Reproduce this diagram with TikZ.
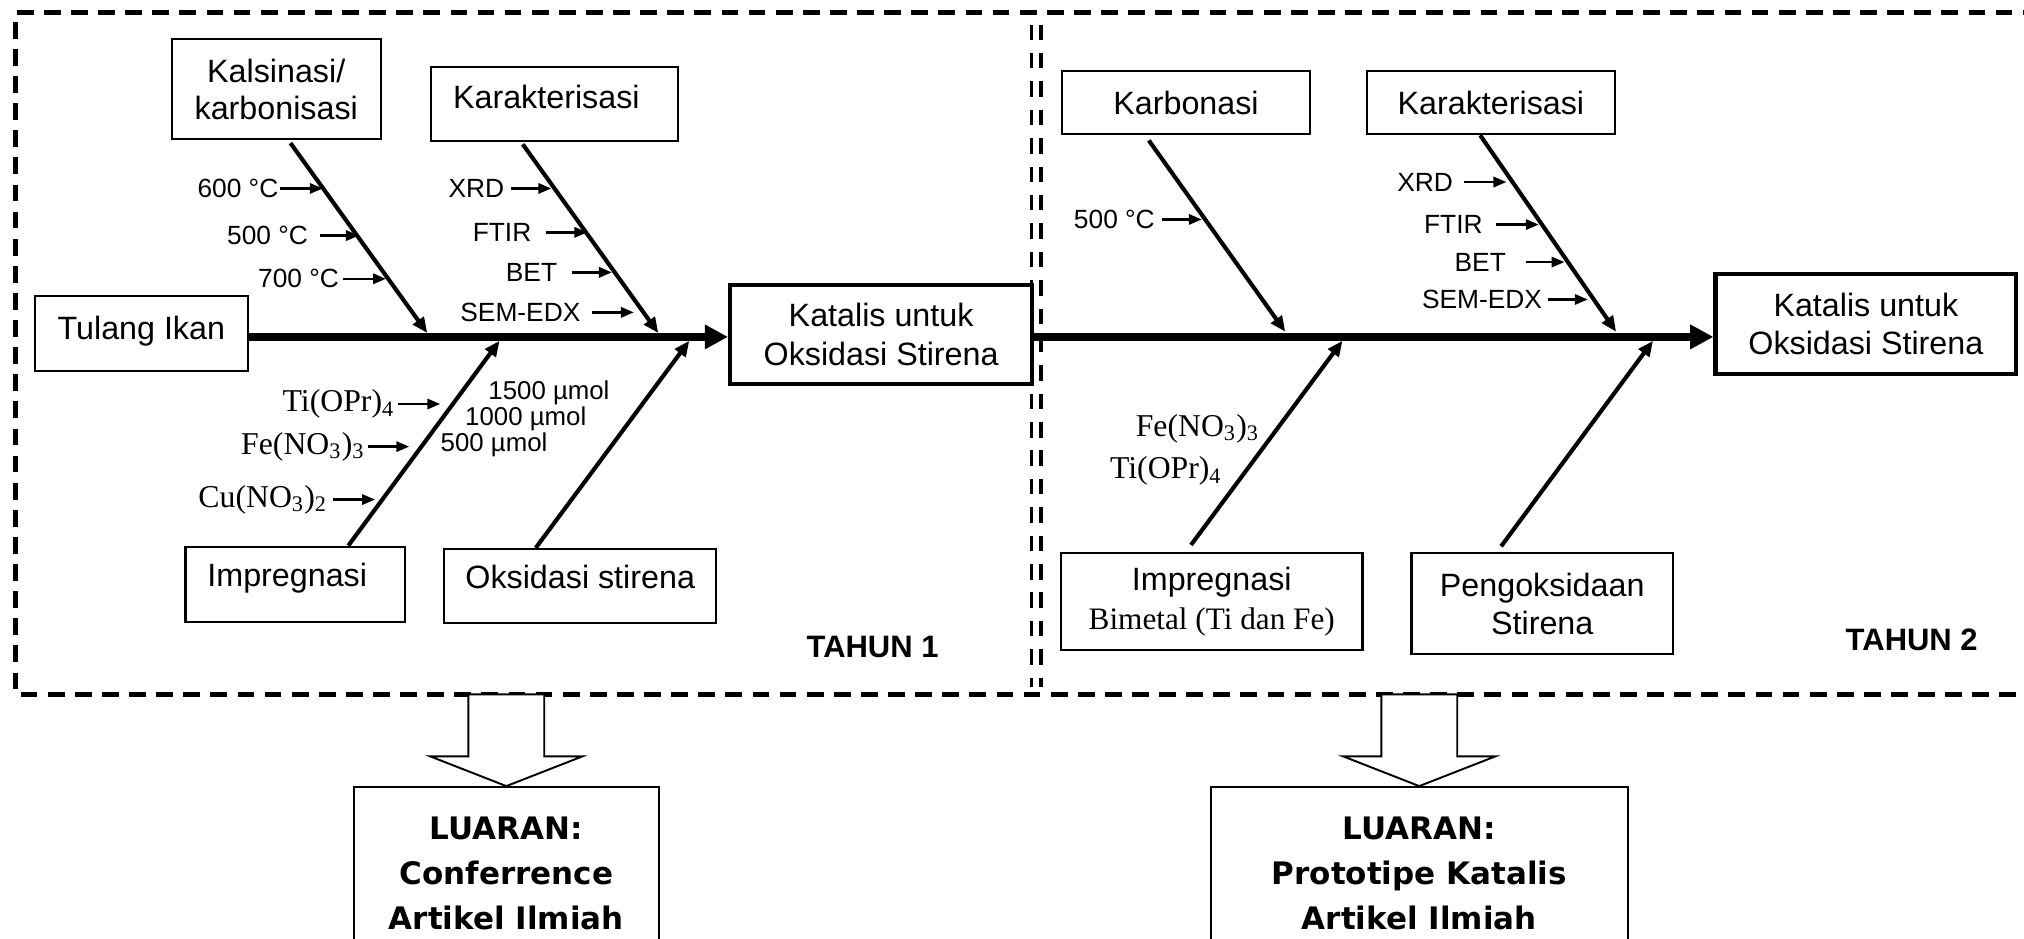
\documentclass[tikz,border=0pt]{standalone}
\usepackage{fontspec}
\setmainfont{Liberation Sans}
\newfontfamily\timesfont{Liberation Serif}
\newfontfamily\luaranfont{DejaVu Sans}
\usetikzlibrary{arrows.meta}

\begin{document}
\begin{tikzpicture}[x=0.5pt, y=-0.5pt,
    box/.style={draw, line width=0.8pt, align=center, inner sep=0pt, font=\fontsize{12.5}{14.5}\selectfont},
    goal/.style={box, line width=1.6pt, font=\fontsize{12.5}{15}\selectfont},
    bone/.style={line width=1.6pt, -{Triangle[length=6pt,width=5pt]}},
    spine/.style={line width=3.2pt, -{Triangle[length=9pt,width=9pt]}},
    subarrow/.style={line width=0.9pt, -{Triangle[length=5pt,width=4pt]}},
    lab/.style={font=\fontsize{10.2}{12}\selectfont, inner sep=0pt, anchor=east},
    chem/.style={font=\timesfont\fontsize{12.3}{14}\selectfont, inner sep=0pt, anchor=east},
    mol/.style={font=\fontsize{10}{12}\selectfont, inner sep=0pt, anchor=west},
    year/.style={font=\bfseries\fontsize{12}{14}\selectfont},
    dashframe/.style={line width=2pt, dash pattern=on 6.5pt off 4pt},
    divider/.style={line width=1.3pt, dash pattern=on 6pt off 5pt},
    blockarrow/.style={draw, line width=0.75pt, fill=white},
    outbox/.style={draw, line width=0.8pt, anchor=north, align=center, minimum height=67pt,
        font=\luaranfont\bfseries\fontsize{12}{17.5}\selectfont}
]
\clip (0,0) rectangle (1568,727);

% --- FRAME: two years side by side ---
\draw[dashframe] (1580,10) -- (12,10) -- (12,538) -- (1580,538);
\draw[divider] (799,19) -- (799,532);
\draw[divider] (806.5,19) -- (806.5,532);

\coordinate (sp) at (0,261);

% --- TAHUN 1 ---
\node[box, minimum width=81pt, minimum height=38.75pt] (kal) at (214,69.25) {Kalsinasi/\\karbonisasi};
\node[box, align=left, text width=78.5pt, inner xsep=8.5pt, text height=16.2pt, text depth=12.5pt] (kar1) at (429.5,80.3) {Karakterisasi};
\node[box, minimum width=82.5pt, text height=17pt, text depth=12pt] (tulang) at (109.5,258.2) {Tulang Ikan};
\node[goal, minimum width=117pt, minimum height=38.3pt] (kat1) at (682.6,259.1) {Katalis untuk\\Oksidasi Stirena};
\node[box, align=left, text width=68.1pt, inner xsep=8.5pt, text height=15.5pt, text depth=13.5pt] (imp1) at (228.8,452.55) {Impregnasi};
\node[box, minimum width=105.5pt, text height=15.2pt, text depth=13.6pt] (oks1) at (449.5,454.1) {Oksidasi stirena};
\node[year] (th1) at (676,501) {TAHUN 1};

% main line and bones
\draw[spine] (tulang.east |- sp) -- (kat1.west |- sp);
\coordinate (kalE) at (331,258);
\coordinate (kar1E) at (510,258);
\coordinate (imp1E) at (387,264);
\coordinate (oks1E) at (534,264);
\draw[bone] ([xshift=5.5pt,yshift=-1pt]kal.south) -- (kalE);
\draw[bone] ([xshift=-12.25pt,yshift=-1pt]kar1.south) -- (kar1E);
\draw[bone] ([xshift=20.5pt]imp1.north) -- (imp1E);
\draw[bone] ([xshift=-17.25pt]oks1.north) -- (oks1E);

% causes on the bones
\node[lab] (c600) at (216,146) {600 °C};
\node[lab] (c500) at (239,182.5) {500 °C};
\node[lab] (c700) at (263,216) {700 °C};
\node[lab] (xrd1) at (391,146) {XRD};
\node[lab] (ftir1) at (412,180) {FTIR};
\node[lab] (bet1) at (432,211) {BET};
\node[lab] (sem1) at (450,242) {SEM-EDX};
\node[chem] (ti1) at (306,313) {Ti(OPr)\textsubscript{4}};
\node[chem] (fe1) at (283,346) {Fe(NO\textsubscript{3})\textsubscript{3}};
\node[chem] (cu1) at (254,387) {Cu(NO\textsubscript{3})\textsubscript{2}};
\node[mol] (m1500) at (378,304.5) {1500 µmol};
\node[mol] (m1000) at (360,324.5) {1000 µmol};
\node[mol] (m500) at (341,344.5) {500 µmol};

\foreach \nm/\x/\y in {k600/250/146, k500/278/182.5, k700/299/216,
    kx1/427/146, kf1/455/180, kb1/474/211, ks1/491/242,
    kti/341/313, kfe/317/346, kcu/290.5/387}
    \coordinate (\nm) at (\x,\y);

\foreach \lbl/\tip/\g in {c600/k600/0.5, c500/k500/4.5, c700/k700/1.5,
    xrd1/kx1/2.5, ftir1/kf1/5.5, bet1/kb1/5.5, sem1/ks1/4.5,
    ti1/kti/1, fe1/kfe/1, cu1/kcu/2}
    \draw[subarrow, shorten <=\g pt] (\lbl.east) -- (\tip);

% --- TAHUN 2 ---
\node[box, minimum width=96.2pt, minimum height=24.5pt] (karb) at (918.8,79.5) {Karbonasi};
\node[box, minimum width=96pt, minimum height=24.5pt] (kar2) at (1155,79.5) {Karakterisasi};
\node[goal, minimum width=116.5pt, minimum height=39pt] (kat2) at (1445.5,251) {Katalis untuk\\Oksidasi Stirena};
\node[box, minimum width=116.75pt, minimum height=37.5pt, font=\fontsize{12.5}{14.8}\selectfont] (imp2) at (938.75,466.1)
    {Impregnasi\\{\timesfont\fontsize{12.1}{14.8}\selectfont Bimetal (Ti dan Fe)}};
\node[box, minimum width=101.25pt, minimum height=39.1pt, font=\fontsize{12.5}{14.8}\selectfont] (peng) at (1194.75,467.7) {Pengoksidaan\\Stirena};
\node[year] (th2) at (1481,496) {TAHUN 2};

\draw[spine] (kat1.east |- sp) -- (kat2.west |- sp);
\coordinate (karbE) at (995.7,257);
\coordinate (kar2E) at (1252,257);
\coordinate (imp2E) at (1040,264);
\coordinate (pengE) at (1280.6,264);
\draw[bone] ([xshift=-14.4pt,yshift=-2pt]karb.south) -- (karbE);
\draw[bone] ([xshift=-4.15pt]kar2.south) -- (kar2E);
\draw[bone] ([xshift=-8.05pt,yshift=2.8pt]imp2.north) -- (imp2E);
\draw[bone] ([xshift=-15.9pt,yshift=2.3pt]peng.north) -- (pengE);

\node[lab] (c500b) at (895,170) {500 °C};
\node[lab] (xrd2) at (1126,141) {XRD};
\node[lab] (ftir2) at (1149,174) {FTIR};
\node[lab] (bet2) at (1167,203) {BET};
\node[lab] (sem2) at (1195,232) {SEM-EDX};
\node[chem] (fe2) at (976,332) {Fe(NO\textsubscript{3})\textsubscript{3}};
\node[chem] (ti2) at (947,365) {Ti(OPr)\textsubscript{4}};

\foreach \nm/\x/\y in {kc2/931/170, kx2/1167/141, kf2/1192/174, kb2/1212/203, ks2/1230/232}
    \coordinate (\nm) at (\x,\y);

\foreach \lbl/\tip/\g in {c500b/kc2/2.5, xrd2/kx2/4, ftir2/kf2/5, bet2/kb2/7.5, sem2/ks2/2}
    \draw[subarrow, shorten <=\g pt] (\lbl.east) -- (\tip);

% --- OUTPUTS ---
\node[outbox, minimum width=118.25pt] (lu1) at (392.25,609) {LUARAN:\\Conferrence\\Artikel Ilmiah};
\node[outbox, minimum width=161.5pt] (lu2) at (1099.5,609) {LUARAN:\\Prototipe Katalis\\Artikel Ilmiah};

\foreach \b in {lu1, lu2}
    \draw[blockarrow] (\b.north) -- ++(-58.85,-23) -- ++(29.45,0) -- ++(0,-48)
        -- ++(58.8,0) -- ++(0,48) -- ++(29.45,0) -- cycle;

\end{tikzpicture}
\end{document}
